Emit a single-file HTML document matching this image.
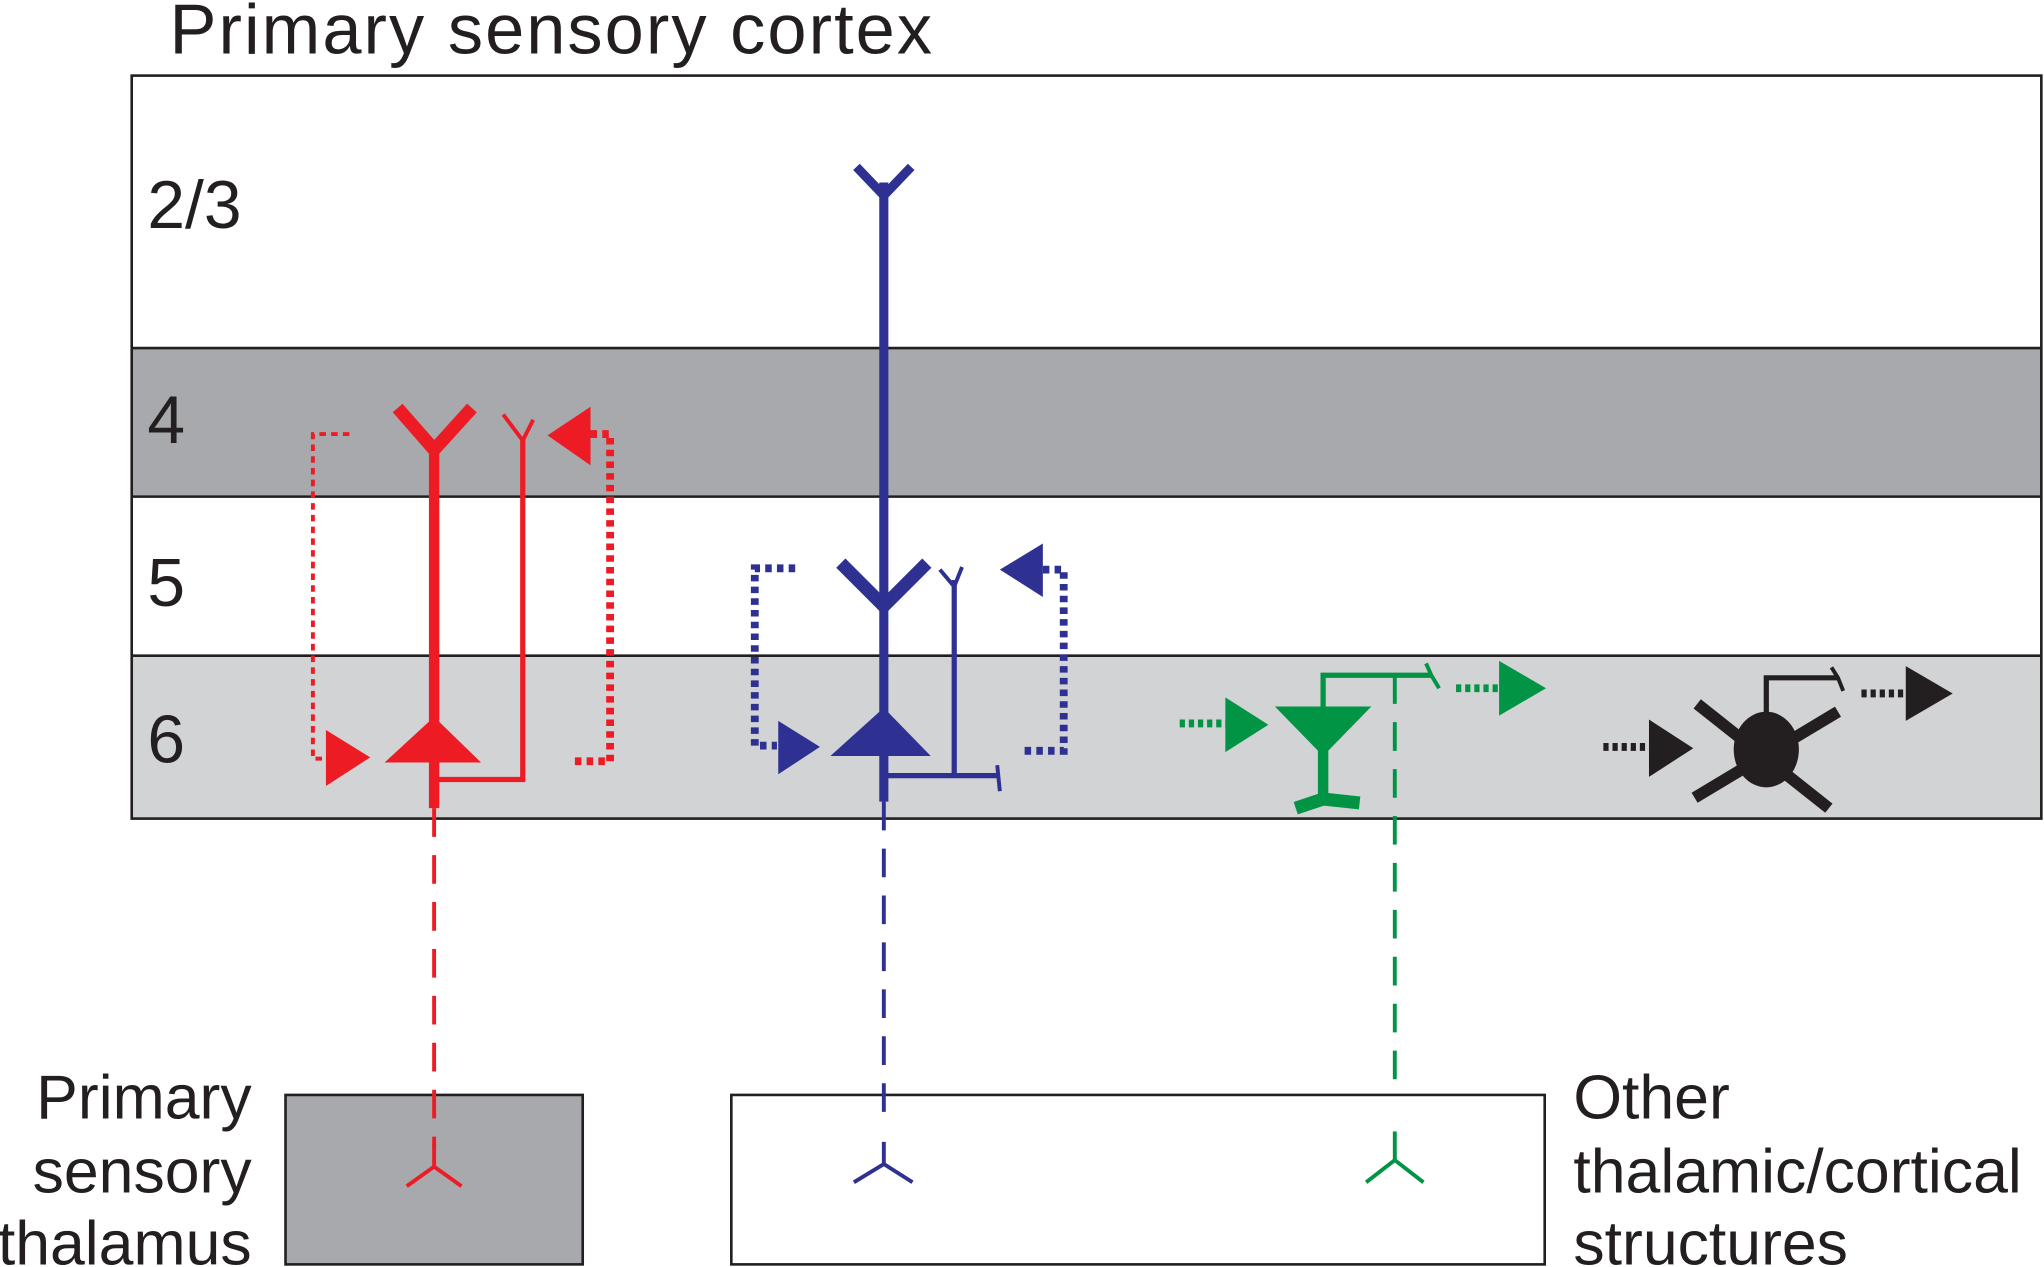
<!DOCTYPE html>
<html><head><meta charset="utf-8"><style>html,body{margin:0;padding:0;background:#fff}svg{display:block}</style></head><body>
<svg width="2044" height="1267" viewBox="0 0 1568 972" xmlns="http://www.w3.org/2000/svg" font-family="Liberation Sans, Arial, sans-serif">
<rect x="0" y="0" width="1568" height="972" fill="#fff"/>
<text x="130" y="41" font-size="54" fill="#231f20" textLength="585">Primary sensory cortex</text>
<rect x="101" y="267" width="1465" height="114" fill="#a7a9ac"/>
<rect x="101" y="503" width="1465" height="125" fill="#d1d3d4"/>
<rect x="101" y="58" width="1465" height="570" fill="none" stroke="#231f20" stroke-width="2"/>
<line x1="101" y1="267" x2="1566" y2="267" stroke="#231f20" stroke-width="2"/>
<line x1="101" y1="381" x2="1566" y2="381" stroke="#231f20" stroke-width="2"/>
<line x1="101" y1="503" x2="1566" y2="503" stroke="#231f20" stroke-width="2"/>
<g font-size="52" fill="#231f20"><text x="113" y="175">2/3</text><text x="113" y="340">4</text><text x="113" y="465">5</text><text x="113" y="585">6</text></g>

<!-- bottom boxes -->
<rect x="219" y="840" width="228" height="130" fill="#a7a9ac" stroke="#231f20" stroke-width="2"/>
<rect x="561" y="840" width="624" height="130" fill="#fff" stroke="#231f20" stroke-width="2"/>

<!-- red -->
<g stroke="#ed1c24" fill="none">
<line x1="333" y1="345" x2="333" y2="620" stroke-width="8"/>
<polyline points="305,313 333,345 362,313" stroke-width="10"/>
<polyline points="333,598 401,598 401,335" stroke-width="4"/>
<polyline points="386,318 401,338 409,322" stroke-width="3"/>
<polyline points="268,333 240,333 240,582 258,582" stroke-width="3" stroke-dasharray="5,4"/>
<polyline points="453,333 468,333 468,584 438,584" stroke-width="6" stroke-dasharray="5,4"/>
<line x1="333" y1="620" x2="333" y2="880" stroke-width="3" stroke-dasharray="22,14"/>
<polyline points="312,910 333,895 354,910" stroke-width="3"/><line x1="333" y1="878" x2="333" y2="895" stroke-width="3"/>
</g>
<g fill="#ed1c24"><polygon points="295,585 333,550 369,585"/><polygon points="250,560 284,581 250,603"/><polygon points="420,334 453,312 453,357"/></g>

<!-- blue -->
<g stroke="#2e3192" fill="none">
<line x1="678" y1="140" x2="678" y2="615" stroke-width="7"/>
<polyline points="657,128 678,150 699,128" stroke-width="7"/>
<polyline points="645,432 678,465 711,432" stroke-width="10"/>
<polyline points="678,595 765,595" stroke-width="4"/>
<line x1="765" y1="587" x2="767" y2="607" stroke-width="3"/>
<line x1="732" y1="595" x2="732" y2="445" stroke-width="4"/>
<polyline points="721,437 732,450 738,435" stroke-width="3"/>
<polyline points="610,436 579,436 579,572 596,572" stroke-width="6" stroke-dasharray="5,4"/>
<polyline points="800,437 816,437 816,576 783,576" stroke-width="6" stroke-dasharray="5,4"/>
<line x1="678" y1="615" x2="678" y2="855" stroke-width="3" stroke-dasharray="22,14"/>
<polyline points="655,907 678,893 700,907" stroke-width="3"/><line x1="678" y1="876" x2="678" y2="893" stroke-width="3"/>
</g>
<g fill="#2e3192"><polygon points="637,580 678,543 714,580"/><polygon points="597,553 629,573 597,594"/><polygon points="767,437 800,417 800,458"/></g>

<!-- green -->
<g stroke="#009444" fill="none">
<line x1="1015" y1="570" x2="1015" y2="612" stroke-width="8"/>
<polyline points="994,620 1015,613 1043,616" stroke-width="10"/>
<polyline points="1015,545 1015,518 1098,518" stroke-width="4"/>
<polyline points="1094,509 1098,518 1104,528" stroke-width="3"/>
<line x1="1070" y1="518" x2="1070" y2="835" stroke-width="3" stroke-dasharray="22,14"/>
<polyline points="1048,907 1070,890 1092,907" stroke-width="3"/><line x1="1070" y1="868" x2="1070" y2="890" stroke-width="3"/>
<line x1="905" y1="555" x2="942" y2="555" stroke-width="6" stroke-dasharray="4,3"/>
<line x1="1117" y1="528" x2="1152" y2="528" stroke-width="6" stroke-dasharray="4,3"/>
</g>
<g fill="#009444"><polygon points="978,542 1052,542 1015,580"/><polygon points="940,535 973,556 940,577"/><polygon points="1150,507 1186,528 1150,549"/></g>

<!-- black -->
<g stroke="#231f20" fill="none">
<line x1="1302" y1="540" x2="1403" y2="620" stroke-width="9"/>
<line x1="1300" y1="612" x2="1410" y2="546" stroke-width="9"/>
<polyline points="1355,555 1355,520 1410,520" stroke-width="4"/>
<polyline points="1405,512 1410,520 1414,530" stroke-width="3"/>
<line x1="1230" y1="573" x2="1268" y2="573" stroke-width="6" stroke-dasharray="4,3"/>
<line x1="1428" y1="532" x2="1464" y2="532" stroke-width="6" stroke-dasharray="4,3"/>
</g>
<g fill="#231f20"><ellipse cx="1355" cy="575" rx="25" ry="29"/><polygon points="1265,552 1299,574 1265,596"/><polygon points="1462,511 1498,532 1462,553"/></g>

<g font-size="48" fill="#231f20" text-anchor="end"><text x="193" y="858">Primary</text><text x="193" y="915">sensory</text><text x="193" y="970">thalamus</text></g>
<g font-size="48" fill="#231f20"><text x="1207" y="858">Other</text><text x="1207" y="915">thalamic/cortical</text><text x="1207" y="970">structures</text></g>
</svg>
</body></html>
